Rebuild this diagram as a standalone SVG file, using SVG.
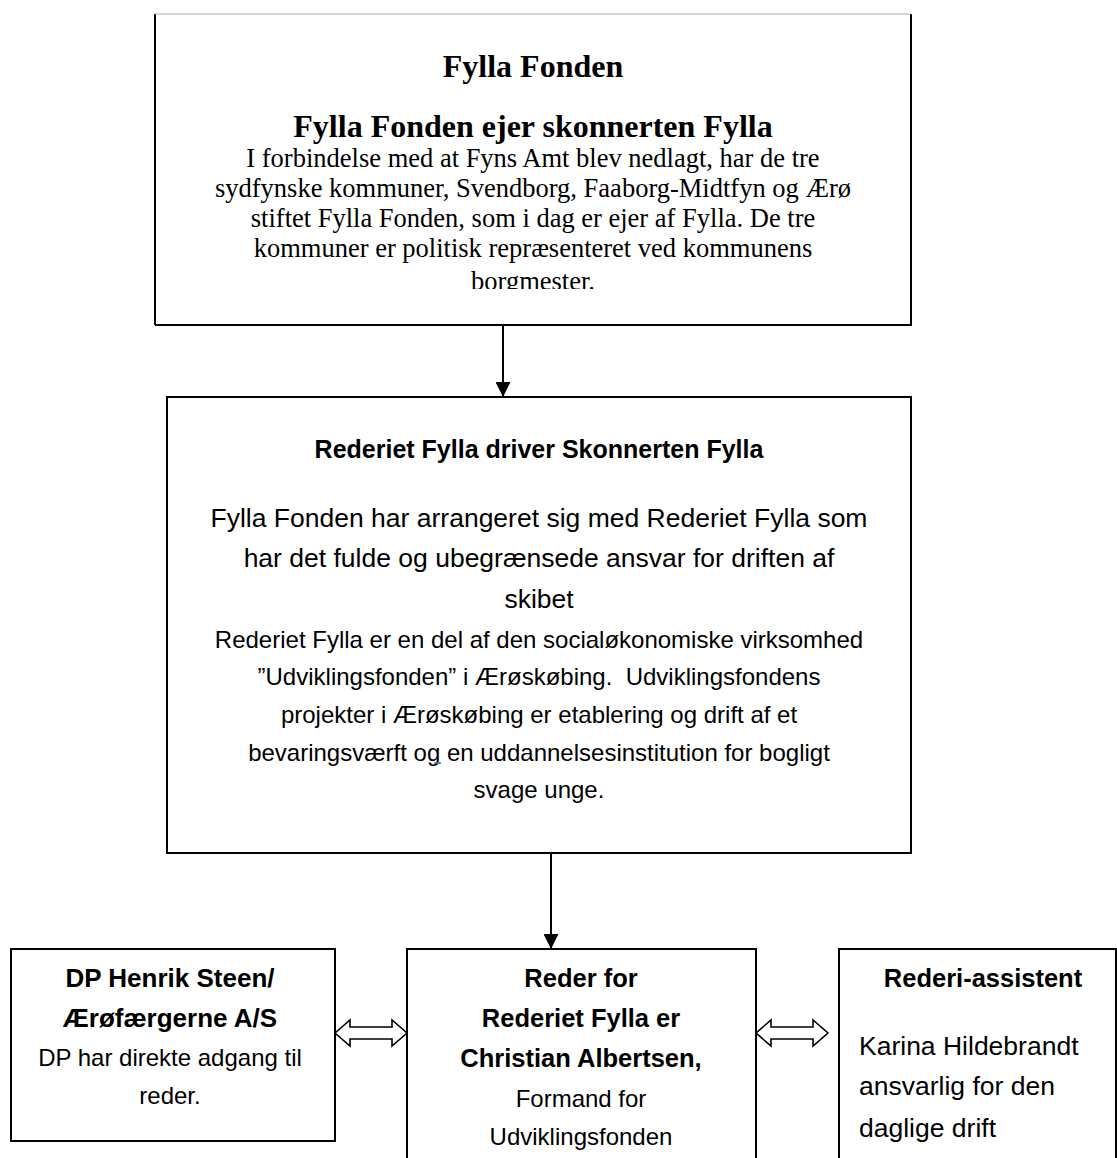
<svg xmlns="http://www.w3.org/2000/svg" width="1117" height="1158" viewBox="0 0 1117 1158">
<style>
.box{fill:#fff;stroke:#000;stroke-width:2}
.serif{font-family:"Liberation Serif","Times New Roman",serif;fill:#000}
.sans{font-family:"Liberation Sans",Arial,sans-serif;fill:#000}
.b{font-weight:bold}
.c{text-anchor:middle}
.conn{stroke:#000;stroke-width:2;fill:none}
.dbl{fill:#fff;stroke:#000;stroke-width:1.6;stroke-linejoin:miter}
</style>
<defs>
<marker id="ah" markerWidth="15" markerHeight="15" refX="15" refY="7.5" orient="auto" markerUnits="userSpaceOnUse">
<path d="M0,0 L15,7.5 L0,15 Z" fill="#000"/>
</marker>
<clipPath id="topclip"><rect x="0" y="0" width="1117" height="289"/></clipPath>
</defs>
<rect width="1117" height="1158" fill="#fff"/>

<g id="fylla-fonden">
<path d="M155,325 L155,14 M911,14 L911,325 L155,325" class="box" fill="none"/>
<line x1="155" y1="14" x2="911" y2="14" stroke="#aaa" stroke-width="1"/>
<text class="serif b c" x="533" y="77" font-size="32">Fylla Fonden</text>
<text class="serif b c" x="533" y="137" font-size="32">Fylla Fonden ejer skonnerten Fylla</text>
<g class="serif c" font-size="26.5" clip-path="url(#topclip)">
<text x="533" y="167">I forbindelse med at Fyns Amt blev nedlagt, har de tre</text>
<text x="533" y="197">sydfynske kommuner, Svendborg, Faaborg-Midtfyn og Ærø</text>
<text x="533" y="227">stiftet Fylla Fonden, som i dag er ejer af Fylla. De tre</text>
<text x="533" y="257">kommuner er politisk repræsenteret ved kommunens</text>
<text x="533" y="290">borgmester.</text>
</g>
</g>

<g id="rederiet-fylla">
<rect class="box" x="167" y="397" width="744" height="456"/>
<text class="sans b c" x="539" y="458" font-size="25">Rederiet Fylla driver Skonnerten Fylla</text>
<g class="sans c" font-size="26.5">
<text x="539" y="527">Fylla Fonden har arrangeret sig med Rederiet Fylla som</text>
<text x="539" y="567">har det fulde og ubegrænsede ansvar for driften af</text>
<text x="539" y="608">skibet</text>
</g>
<g class="sans c" font-size="24">
<text x="539" y="648">Rederiet Fylla er en del af den socialøkonomiske virksomhed</text>
<text x="539" y="685">”Udviklingsfonden” i Ærøskøbing.&#160; Udviklingsfondens</text>
<text x="539" y="723">projekter i Ærøskøbing er etablering og drift af et</text>
<text x="539" y="761">bevaringsværft og en uddannelsesinstitution for bogligt</text>
<text x="539" y="798">svage unge.</text>
</g>
<line x1="434" y1="763" x2="441" y2="763" stroke="#2e74b5" stroke-width="1.5"/>
</g>

<g id="dp-henrik-steen">
<rect class="box" x="11" y="949" width="324" height="192"/>
<g class="sans b c" font-size="26">
<text x="170" y="987">DP Henrik Steen/</text>
<text x="170" y="1027">Ærøfærgerne A/S</text>
</g>
<g class="sans c" font-size="24">
<text x="170" y="1066">DP har direkte adgang til</text>
<text x="170" y="1104">reder.</text>
</g>
</g>

<g id="reder">
<rect class="box" x="407" y="949" width="349" height="230"/>
<g class="sans b c" font-size="25.5">
<text x="581" y="987">Reder for</text>
<text x="581" y="1027">Rederiet Fylla er</text>
<text x="581" y="1067">Christian Albertsen,</text>
</g>
<g class="sans c" font-size="24">
<text x="581" y="1107">Formand for</text>
<text x="581" y="1145">Udviklingsfonden</text>
</g>
</g>

<g id="rederi-assistent">
<rect class="box" x="839" y="949" width="277" height="230"/>
<text class="sans b c" x="983" y="987" font-size="25.5">Rederi-assistent</text>
<g class="sans" font-size="26.5">
<text x="859" y="1055">Karina Hildebrandt</text>
<text x="859" y="1095">ansvarlig for den</text>
<text x="859" y="1137">daglige drift</text>
</g>
</g>

<g id="connectors">
<line class="conn" x1="503" y1="325" x2="503" y2="397" marker-end="url(#ah)"/>
<line class="conn" x1="551" y1="853" x2="551" y2="949" marker-end="url(#ah)"/>
<path class="dbl" d="M335,1033 L350,1020 L350,1027 L392,1027 L392,1020 L407,1033 L392,1046 L392,1039 L350,1039 L350,1046 Z"/>
<path class="dbl" d="M756,1033 L771,1020 L771,1027 L813,1027 L813,1020 L828,1033 L813,1046 L813,1039 L771,1039 L771,1046 Z"/>
</g>
</svg>
